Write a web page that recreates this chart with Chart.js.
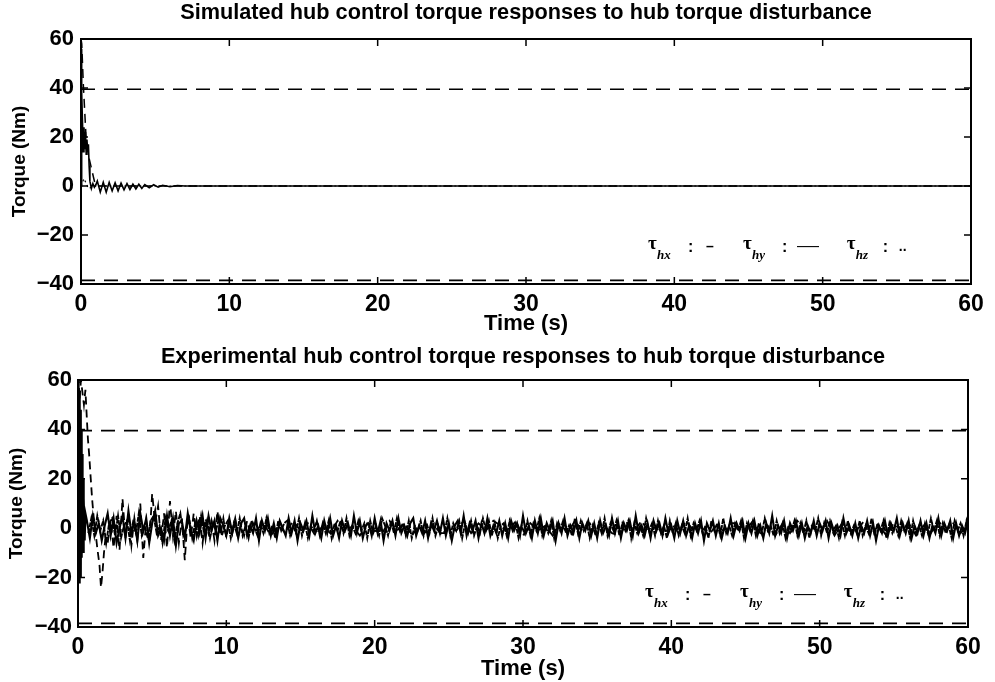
<!DOCTYPE html>
<html>
<head>
<meta charset="utf-8">
<script src="https://cdn.jsdelivr.net/npm/chart.js@4.4.1/dist/chart.umd.min.js"></script>
<style>
  html, body { margin: 0; padding: 0; background: #fff; }
  .panel { position: relative; width: 995px; }
  #top { height: 336px; }
  #bottom { height: 346px; }
</style>
</head>
<body>
<div class="panel" id="top"><canvas id="simChart"></canvas></div>
<div class="panel" id="bottom"><canvas id="expChart"></canvas></div>
<script>
// axis ticks
const xTicks = [0, 10, 20, 30, 40, 50, 60];
const yTicks = [-40, -20, 0, 20, 40, 60];

// torque limits (dashed horizontal lines)
const limitTime = [0, 60];
const upperLimit = [39.5, 39.5];
const lowerLimit = [-38.5, -38.5];

// simulated responses
const simHxTime = [0, 0.03, 0.06, 0.1, 0.15, 0.2, 0.25, 0.3, 0.35, 0.4, 0.45, 0.5, 0.55, 0.6, 0.7,
  0.8, 0.9, 1.0, 1.1, 1.3, 1.5, 1.7, 1.9, 2.1, 2.3, 2.5, 2.7, 2.9, 3.1, 3.3, 3.5, 3.7, 3.9, 4.1, 4.3,
  4.6, 4.9, 5.2, 5.5, 6.0, 6.5, 7.0, 60];
const simHxTorque = [0, 56, 38, 26, 14, 24, 15, 22, 13, 19, 14, 17, 8, 2, -1,
  1, -0.5, 0.5, 2, -2.5, 1.5, -2.5, 1.5, -2, 1.3, -2, 1.2, -1.6, 1, -1.4, 0.8, -1.2, 0.7, -1, 0.6,
  -0.7, 0.5, -0.5, 0.3, -0.3, 0.2, 0, 0];
const simHyTime = [0, 0.05, 0.16, 0.34, 0.56, 0.75, 0.94, 1.1, 60];
const simHyTorque = [60, 58, 41, 20, 11, 6, 1, 0, 0];
const simHzTime = [0, 0.2, 0.5, 1.0, 60];
const simHzTorque = [0, 3, -1, 0, 0];

// experimental responses
const expHxStartTime = [0, 0.02, 0.04, 0.06, 0.08, 0.1, 0.13, 0.16, 0.19, 0.22, 0.25, 0.28, 0.31, 0.34, 0.37, 0.4, 0.45, 0.5];
const expHxStartTorque = [0, 60, -15, 58, -22, 55, -18, 48, -20, 40, -12, 30, -8, 20, -10, 12, -5, 6];
const expHxT0 = 0.6, expHxStep = 0.2;
const expHxTorque = [
  3, -4, 5, -2, 2, -5, 1, 6, -3, 4, -6, 0, 5, -4, 7, -2, 3, -5, 6, -1,
  4, -6, 2, 7, -3, 0, -5, 5, -3, 4, -7, 2, 3, -4, 6, -1, -5, 3, -2, 5,
  -4, 5, -1, 3, -5, 4, 1, -3, 4, -2, 3, -4, 2, 4, -3, 1, -2, 4, -5, 3,
  -1, 4, -3, 2, -4, 3, 0, -3, 4, -2, 3, -5, 2, -1, 3, -3, 5, -2, 1, -4,
  3, -2, 4, -3, 1, -4, 3, -1, 2, -3, 5, -2, 3, -4, 1, 2, -3, 4, -2, 3,
  -5, 2, -1, 3, -3, 4, -2, 1, -3, 2, 4, -3, 1, -2, 3, -4, 2, -1, 3, -2,
  4, -3, 2, -5, 1, 3, -2, 5, -3, 2, -1, 3, -4, 2, -2, 4, -3, 1, -2, 3,
  -3, 2, -4, 3, -1, 2, -3, 5, -2, 1, -4, 3, -2, 4, -3, 2, -1, 3, -5, 2,
  -2, 4, -3, 1, -2, 3, -4, 2, -1, 3, -3, 2, -4, 3, -2, 1, -3, 4, -2, 3,
  -4, 2, -1, 3, -3, 5, -2, 1, -3, 2, -4, 3, -1, 2, -3, 4, -2, 1, -4, 3,
  -2, 3, -3, 1, -4, 2, -2, 3, -5, 2, -1, 3, -3, 2, -4, 1, -2, 4, -3, 2,
  -1, 3, -4, 2, -2, 3, -3, 1, -4, 2, -2, 5, -3, 1, -2, 3, -4, 2, -1, 3,
  -3, 2, -4, 1, -2, 3, -3, 2, -1, 3, -4, 2, -2, 1, -3, 4, -2, 1, -3, 2,
  -4, 1, -2, 3, -3, 2, -5, 1, -2, 3, -3, 2, -1, 4, -3, 2, -2, 3, -4, 1,
  -2, 3, -3, 2, -4, 1, -2, 4, -3, 2, -1, 3, -4, 2, -3, 1, -2, 3, -3, 2
];
const expHzT0 = 0.7, expHzStep = 0.2;
const expHzTorque = [
  -2, 4, -3, 5, -1, 3, -6, 2, 4, -3, 5, -4, 1, 3, -5, 2, -2, 6, -3, 1,
  -4, 3, 5, -2, 1, -6, 4, -1, 3, -5, 2, 6, -3, 0, 4, -4, 2, -3, 5, -2,
  3, -4, 2, -1, 4, -3, 1, 3, -4, 2, -2, 4, -3, 1, -4, 3, 0, -3, 2, -2,
  4, -2, 1, -4, 3, -1, 2, 3, -3, 1, -2, 4, -3, 2, -4, 1, -1, 3, -3, 2,
  -2, 3, -4, 2, -1, 3, -2, 4, -3, 1, -2, 3, -1, 2, -4, 3, -2, 1, -3, 4,
  1, -3, 3, -2, 4, -1, 2, -3, 3, -4, 1, -1, 3, -3, 2, -2, 4, -3, 1, -2,
  -2, 4, -3, 2, -1, 3, -4, 2, -2, 3, -3, 1, -2, 4, -1, 3, -3, 2, -4, 1,
  2, -3, 3, -1, 2, -4, 1, -2, 3, -3, 2, -1, 4, -3, 1, -2, 3, -4, 2, -1,
  3, -2, 1, -3, 4, -2, 3, -1, 2, -4, 1, -3, 2, -2, 4, -3, 2, -1, 3, -3,
  2, -1, 3, -4, 2, -2, 1, -3, 4, -1, 2, -3, 3, -2, 1, -4, 3, -2, 2, -3,
  1, -2, 4, -3, 2, -1, 3, -2, 1, -4, 3, -1, 2, -3, 4, -2, 1, -3, 2, -1,
  3, -4, 2, -1, 3, -3, 2, -2, 4, -1, 1, -3, 3, -2, 2, -4, 1, -1, 3, -3,
  2, -2, 3, -4, 1, -1, 4, -3, 2, -2, 3, -1, 1, -4, 2, -3, 3, -2, 1, -2,
  3, -3, 1, -2, 4, -3, 2, -1, 3, -4, 2, -2, 1, -3, 3, -1, 2, -4, 3, -2,
  1, -3, 2, -2, 4, -1, 3, -3, 2, -2, 1, -4, 3, -1, 2, -3, 3, -2, 1, -3
];
const expHyStartTime = [0, 0.05, 0.1, 0.2, 0.3, 0.4, 0.5, 0.6, 0.67, 0.75, 0.86, 0.95, 1.05, 1.15, 1.3, 1.45, 1.55, 1.65, 1.75, 1.85];
const expHyStartTorque = [58, 60, 52, 60, 55, 50, 56, 44, 36, 30, 20, 12, 5, 0, -8, -15, -24, -18, -10, -4];
const expHyT0 = 2.0, expHyStep = 0.2;
const expHyTorque = [
  -6, 3, -8, 5, -9, 12, -4, 6, -7, 4,
  -5, 10, -12, 3, -6, 14, 2, 9, -5, 6,
  -8, 11, -3, 7, -6, 4, -13, 5, -4, 6,
  -3, 5, -6, 4, -2, 3, -5, 7, -3, 4,
  -4, 3, -2, 4, -3, 2, -3, 3, -2, 2, -1
];
const expHyTailT0 = 12.5, expHyTailStep = 0.5;
const expHyTail = [
  2, -3, 1, -2, 3, -1, 2, -3, 1, -2, 3, -2, 1, -3, 2, -1,
  -2, 3, -1, 2, -3, 1, -2, 2, -3, 1, -1, 3, -2, 2, -1, 3,
  1, -2, 3, -3, 2, -1, 1, -3, 2, -2, 3, -1, 2, -3, 1, -2,
  -3, 2, -1, 3, -2, 1, -3, 2, -2, 3, -1, 2, -3, 1, -1, 2,
  2, -1, 3, -2, 1, -3, 2, -2, 3, -1, 1, -2, 3, -3, 2, -1,
  -1, 3, -2, 1, -3, 2, -1, 2, -3, 1, -2, 3, -1, 2, -2, 1
];

function pairs(times, values) {
  return values.map((v, i) => ({ x: times[i], y: v }));
}
function sampled(t0, step, values) {
  return values.map((v, i) => ({ x: +(t0 + i * step).toFixed(3), y: v }));
}
function line(data, dash, width) {
  return {
    data: data,
    borderColor: '#000',
    borderWidth: width,
    borderDash: dash,
    pointRadius: 0,
    tension: 0,
    fill: false
  };
}

const FONT = '"Liberation Sans", Arial, sans-serif';
const SERIF = '"Liberation Serif", "Times New Roman", serif';

// frame, inward ticks, titles and the tau legend
const decor = {
  id: 'decor',
  afterDraw(chart, args, o) {
    const { ctx, chartArea: a, scales } = chart;
    const xs = scales.x, ys = scales.y;
    ctx.save();
    ctx.strokeStyle = '#000';
    ctx.lineWidth = 2;
    ctx.strokeRect(a.left, a.top, a.right - a.left, a.bottom - a.top);
    ctx.lineWidth = 1.5;
    ctx.beginPath();
    xTicks.forEach(t => {
      const px = xs.getPixelForValue(t);
      ctx.moveTo(px, a.bottom); ctx.lineTo(px, a.bottom - 7);
      ctx.moveTo(px, a.top); ctx.lineTo(px, a.top + 7);
    });
    yTicks.forEach(v => {
      const py = ys.getPixelForValue(v);
      ctx.moveTo(a.left, py); ctx.lineTo(a.left + 7, py);
      ctx.moveTo(a.right, py); ctx.lineTo(a.right - 7, py);
    });
    ctx.stroke();

    ctx.fillStyle = '#000';
    ctx.textAlign = 'center';
    ctx.textBaseline = 'middle';
    ctx.font = 'bold 21.7px ' + FONT;
    ctx.fillText(o.title, (a.left + a.right) / 2, o.titleY);
    ctx.font = 'bold 22px ' + FONT;
    ctx.fillText('Time (s)', (a.left + a.right) / 2, o.xLabelY);
    ctx.save();
    ctx.translate(o.yLabelX, (a.top + a.bottom) / 2);
    ctx.rotate(-Math.PI / 2);
    ctx.font = 'bold 19px ' + FONT;
    ctx.fillText('Torque (Nm)', 0, 0);
    ctx.restore();

    // legend text: tau_hx : -   tau_hy : --   tau_hz : ..
    const ly = ys.getPixelForValue(o.legendValue);
    const items = [
      { t: 38.5, sub: 'hx', mark: '\u2013', size: 14, colon: 36, gap: 54 },
      { t: 44.9, sub: 'hy', mark: '\u2014\u2014', size: 11, colon: 35, gap: 50 },
      { t: 51.9, sub: 'hz', mark: '..', size: 14, colon: 32, gap: 48 }
    ];
    ctx.textAlign = 'left';
    items.forEach(it => {
      const px = xs.getPixelForValue(it.t);
      ctx.font = 'bold 19px ' + SERIF;
      ctx.fillText('\u03c4', px - 4, ly - 2);
      ctx.font = 'italic bold 13px ' + SERIF;
      ctx.fillText(it.sub, px + 5, ly + 10);
      ctx.font = 'bold 16px ' + FONT;
      ctx.fillText(':', px + it.colon, ly + 2);
      ctx.font = 'bold ' + it.size + 'px ' + FONT;
      ctx.fillText(it.mark, px + it.gap, ly + 1);
    });
    ctx.restore();
  }
};

function makeChart(id, datasets, o) {
  const H = document.getElementById(id).parentNode.clientHeight;
  return new Chart(document.getElementById(id), {
    type: 'line',
    data: { datasets: datasets },
    plugins: [decor],
    options: {
      responsive: true,
      maintainAspectRatio: false,
      animation: false,
      layout: { padding: { top: o.top, right: o.right, left: 0, bottom: 0 } },
      plugins: {
        legend: { display: false },
        tooltip: { enabled: false },
        decor: o
      },
      scales: {
        x: {
          type: 'linear',
          min: 0, max: 60,
          afterFit: s => { s.height = H - o.bottom; },
          grid: { display: false, drawTicks: false },
          border: { display: false },
          ticks: { stepSize: 10, padding: o.xPad, color: '#000', font: { family: FONT, size: 23, weight: 'bold' } }
        },
        y: {
          min: -40, max: 60,
          afterFit: s => { s.width = o.left; },
          grid: { display: false, drawTicks: false },
          border: { display: false },
          ticks: {
            stepSize: 20, padding: o.yPad, color: '#000',
            font: { family: FONT, size: 22, weight: 'bold' },
            callback: v => String(v).replace('-', '\u2212')
          }
        }
      }
    }
  });
}

makeChart('simChart', [
  line(pairs(simHxTime, simHxTorque), [], 1.6),
  line(pairs(simHyTime, simHyTorque), [9, 6], 1.5),
  line(pairs(simHzTime, simHzTorque), [2, 3], 1.2),
  line(pairs(limitTime, upperLimit), [14, 9], 1.6),
  line(pairs(limitTime, lowerLimit), [14, 9], 1.8)
], {
  title: 'Simulated hub control torque responses to hub torque disturbance',
  titleY: 13, xLabelY: 324, yLabelX: 20, legendValue: -24.5,
  top: 39, right: 24, left: 81, bottom: 284, xPad: 7, yPad: 7
});

makeChart('expChart', [
  line(pairs(expHxStartTime, expHxStartTorque).concat(sampled(expHxT0, expHxStep, expHxTorque)), [], 2.1),
  line(sampled(expHzT0, expHzStep, expHzTorque), [5, 1], 1.9),
  line(pairs(expHyStartTime, expHyStartTorque).concat(sampled(expHyT0, expHyStep, expHyTorque), sampled(expHyTailT0, expHyTailStep, expHyTail)), [8, 5], 1.8),
  line(pairs(limitTime, upperLimit), [14, 9], 1.6),
  line(pairs(limitTime, lowerLimit), [14, 9], 1.8)
], {
  title: 'Experimental hub control torque responses to hub torque disturbance',
  titleY: 21, xLabelY: 333, yLabelX: 17, legendValue: -26.5,
  top: 44, right: 27, left: 78, bottom: 291, xPad: 7, yPad: 6
});
</script>
</body>
</html>
